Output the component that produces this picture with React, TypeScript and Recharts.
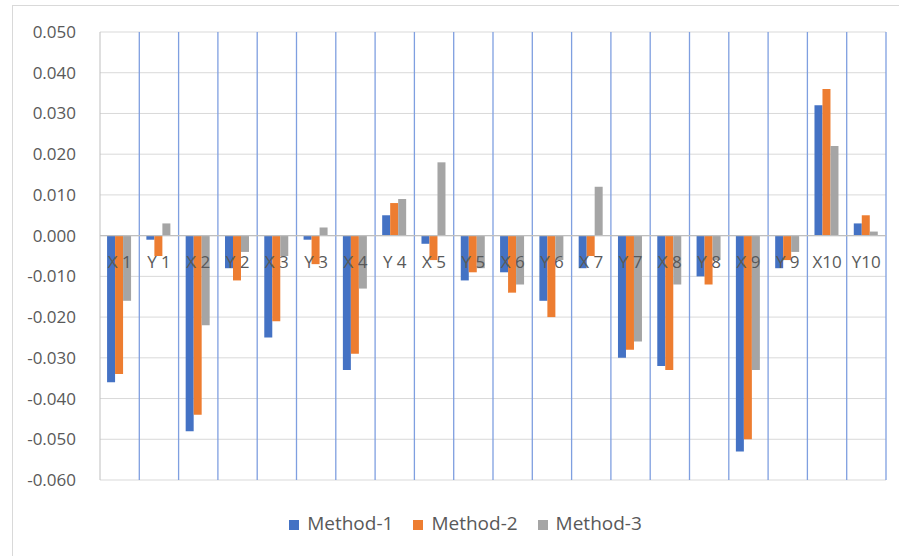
import { BarChart, Bar, XAxis, YAxis, CartesianGrid, Legend, ReferenceLine } from 'recharts'

const categories = ['X 1', 'Y 1', 'X 2', 'Y 2', 'X 3', 'Y 3', 'X 4', 'Y 4', 'X 5', 'Y 5',
  'X 6', 'Y 6', 'X 7', 'Y 7', 'X 8', 'Y 8', 'X 9', 'Y 9', 'X10', 'Y10']
const method1 = [-0.036, -0.001, -0.048, -0.008, -0.025, -0.001, -0.033, 0.005, -0.002, -0.011,
  -0.009, -0.016, -0.008, -0.030, -0.032, -0.010, -0.053, -0.008, 0.032, 0.003]
const method2 = [-0.034, -0.005, -0.044, -0.011, -0.021, -0.007, -0.029, 0.008, -0.006, -0.009,
  -0.014, -0.020, -0.005, -0.028, -0.033, -0.012, -0.050, -0.006, 0.036, 0.005]
const method3 = [-0.016, 0.003, -0.022, -0.004, -0.005, 0.002, -0.013, 0.009, 0.018, -0.008,
  -0.012, -0.006, 0.012, -0.026, -0.012, -0.006, -0.033, -0.004, 0.022, 0.001]
const yTicks = [-0.06, -0.05, -0.04, -0.03, -0.02, -0.01, 0, 0.01, 0.02, 0.03, 0.04, 0.05]

const data = categories.map((name, i) => ({ name, m1: method1[i], m2: method2[i], m3: method3[i] }))

const FONT = '"Open Sans", sans-serif'
const TEXT = '#595959'
const LABEL_Y = 262 // category labels sit just under the zero line

function CatTick({ x, payload }: any) {
  return (
    <text x={x} y={LABEL_Y} textAnchor="middle" fill={TEXT} fontSize={17} fontFamily={FONT}>
      {payload.value}
    </text>
  )
}

export default function App() {
  return (
    <div style={{ position: 'absolute', left: 12, top: 5, width: 900, height: 560, border: '1px solid #d9d9d9', background: '#fff' }}>
      <BarChart width={887} height={550} data={data} margin={{ top: 26, right: 14, bottom: 0, left: 0 }}
        barCategoryGap="18%" barGap={0}>
        <CartesianGrid stroke="#d9d9d9" vertical={false} />
        <CartesianGrid horizontal={false} stroke="#7f9fe0" strokeWidth={1.3}
          verticalCoordinatesGenerator={({ offset }: any) =>
            categories.map((_, i) => offset.left + ((i + 1) * offset.width) / categories.length)} />
        <XAxis dataKey="name" axisLine={false} tickLine={false} tick={<CatTick />} interval={0} height={30} />
        <YAxis domain={[-0.06, 0.05]} ticks={yTicks} width={87} axisLine={{ stroke: '#bfbfbf' }} tickLine={false}
          tickMargin={18} tickFormatter={(v: number) => v.toFixed(3)}
          tick={{ fill: TEXT, fontSize: 17, fontFamily: FONT }} />
        <ReferenceLine y={0} stroke="#bfbfbf" strokeWidth={1.3} />
        <Bar dataKey="m1" name="Method-1" fill="#4472c4" isAnimationActive={false} />
        <Bar dataKey="m2" name="Method-2" fill="#ed7d31" isAnimationActive={false} />
        <Bar dataKey="m3" name="Method-3" fill="#a5a5a5" isAnimationActive={false} />
        <Legend verticalAlign="bottom" iconType="square" iconSize={10} height={46}
          wrapperStyle={{ fontFamily: FONT, fontSize: 19, paddingLeft: 26 }}
          formatter={(v: string) => <span style={{ color: TEXT, marginLeft: 4, marginRight: 10 }}>{v}</span>} />
      </BarChart>
    </div>
  )
}
